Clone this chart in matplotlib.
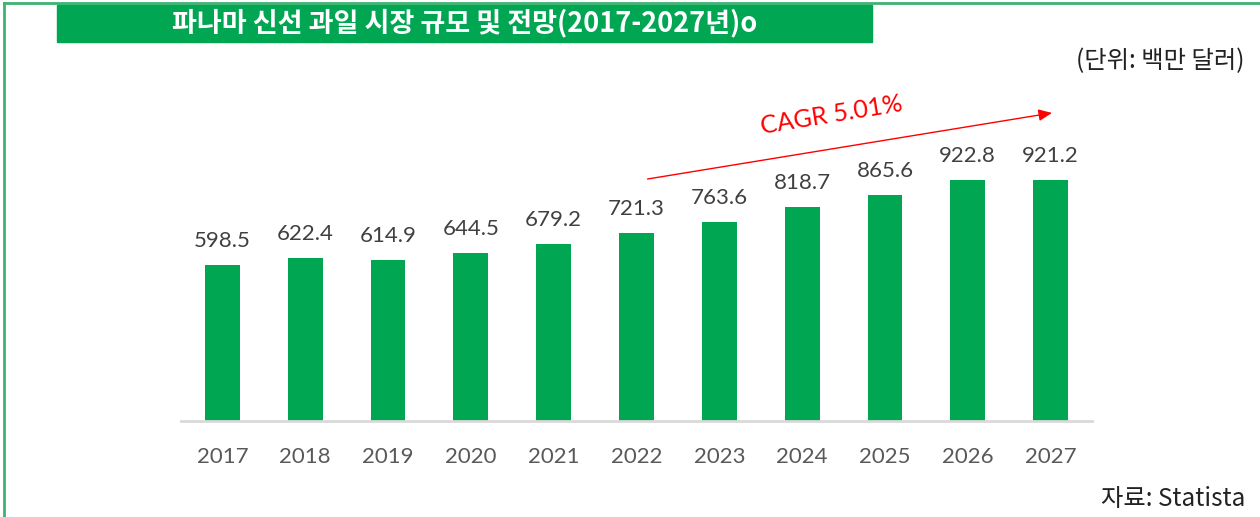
import matplotlib
matplotlib.use("Agg")
import matplotlib.pyplot as plt
from matplotlib.patches import Rectangle
from matplotlib.lines import Line2D

plt.rcParams["font.family"] = ["Lato", "Noto Sans CJK KR", "DejaVu Sans"]

# 데이터
years = ["2017", "2018", "2019", "2020", "2021", "2022",
         "2023", "2024", "2025", "2026", "2027"]
values = [598.5, 622.4, 614.9, 644.5, 679.2, 721.3,
          763.6, 818.7, 865.6, 922.8, 921.2]

title = "파나마 신선 과일 시장 규모 및 전망(2017-2027년)o"
unit = "(단위: 백만 달러)"
source = "자료: Statista"
cagr = "CAGR 5.01%"

GREEN = "#00A651"
W, H = 1260, 517
KR = ["Noto Sans CJK KR", "DejaVu Sans"]

fig = plt.figure(figsize=(W / 100, H / 100), dpi=100)
ax = fig.add_axes([181 / W, 1 - 420.5 / H, (1092 - 181) / W, 320 / H])

x = range(len(years))
ax.bar(x, values, width=0.42, color=GREEN, zorder=2)
for i, v in enumerate(values):
    ax.text(i, v + 92, f"{v:.1f}", ha="center", va="center",
            fontsize=16, color="#404040")

ax.set_xlim(-0.5, 10.5)
ax.set_ylim(0, 1228)
ax.set_xticks(list(x))
ax.set_xticklabels(years, fontsize=16, color="#595959")
ax.tick_params(axis="x", length=0, pad=19)
ax.set_yticks([])
for s in ["top", "right", "left"]:
    ax.spines[s].set_visible(False)
ax.spines["bottom"].set_color("#D9D9D9")
ax.spines["bottom"].set_linewidth(2)

# CAGR 화살표
ax.annotate("", xy=(10.05, 1182), xytext=(5.1, 925),
            arrowprops=dict(arrowstyle="-|>,head_length=0.8,head_width=0.35",
                            color="#FF0000", lw=1.0))
ax.text(7.35, 1172, cagr, ha="center", va="center", rotation=9.3,
        fontsize=18, color="#FF0000")

# 테두리 및 제목
fig.add_artist(Line2D([4 / W, 1], [1 - 3 / H, 1 - 3 / H], color="#3CB371", lw=2))
fig.add_artist(Line2D([4 / W, 4 / W], [0, 1 - 3 / H], color="#3CB371", lw=2))
fig.add_artist(Rectangle((57 / W, 1 - 42 / H), (872 - 57) / W, 37 / H,
                         transform=fig.transFigure, color=GREEN, zorder=3))
fig.text(465 / W, 1 - 23 / H, title, ha="center", va="center", color="white",
         fontsize=19.5, fontweight="bold", zorder=4, family=KR)
fig.text(1245 / W, 1 - 61 / H, unit, ha="right", va="center", color="#222222",
         fontsize=17.5, family=KR)
fig.text(1245 / W, 1 - 499 / H, source, ha="right", va="center", color="#222222",
         fontsize=17.5, family=KR)

fig.savefig("out.png", dpi=100)
